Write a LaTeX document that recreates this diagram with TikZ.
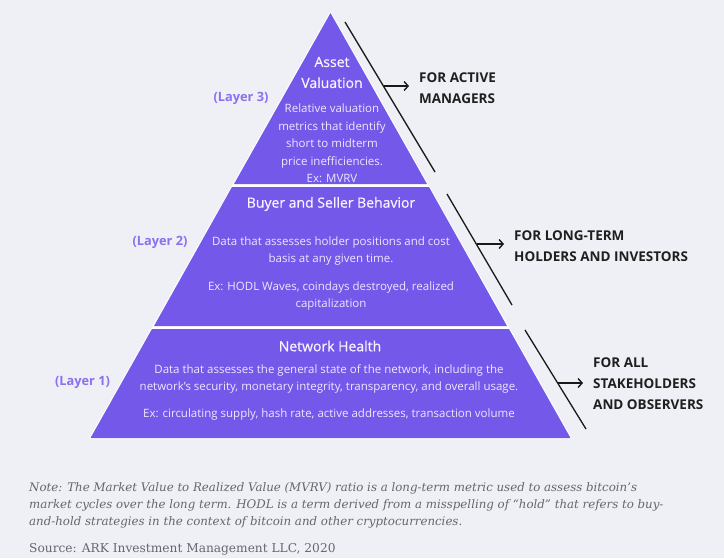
\documentclass[tikz,border=0pt]{standalone}
\usepackage{fontspec}
\setmainfont{DejaVu Serif}
\newfontfamily\osans{Open Sans}
\newfontfamily\osansmed{Open Sans}[FakeBold=0.6]
\usetikzlibrary{arrows.meta}
\definecolor{bg}{HTML}{EFF0F5}
\definecolor{pyr}{HTML}{7458EA}
\definecolor{layertxt}{HTML}{8B70F0}
\definecolor{ttl}{HTML}{F6F4FF}
\definecolor{bodytxt}{HTML}{ECE8FF}
\definecolor{notegray}{HTML}{66666C}
\begin{document}
\begin{tikzpicture}[x=1pt,y=-1pt,
  band/.style={fill=pyr},
  bandtitle/.style={text=ttl,font=\osansmed\fontsize{14}{21}\selectfont,align=center,inner sep=0pt},
  bandbody/.style={text=bodytxt,font=\osans\fontsize{11.5}{17.5}\selectfont,align=center,inner sep=0pt},
  layerlbl/.style={text=layertxt,font=\osans\bfseries\fontsize{12.8}{16}\selectfont,inner sep=0pt},
  audience/.style={text=black!88,font=\osans\bfseries\fontsize{13.5}{21}\selectfont,align=left,inner sep=0pt,anchor=west},
  divider/.style={line width=1.3pt,black!90},
  pointer/.style={line width=1.4pt,black!90,-{Straight Barb[length=4pt,width=9pt]},shorten >=10pt},
  notetxt/.style={text=notegray,inner sep=0pt,anchor=west,align=left}]

% canvas
\fill[bg] (0,0) rectangle (724,558);
\useasboundingbox (0,0) rectangle (724,558);

% pyramid: white backing shows as thin gaps between the three layers
\filldraw[white,line width=2pt,line join=round] (330.5,13) -- (570.5,438) -- (90.5,438) -- cycle;
\fill[band] (330.5,13) -- (427,184) -- (234,184) -- cycle;
\fill[band] (232,187) -- (429,187) -- (507,326) -- (154,326) -- cycle;
\fill[band] (152,329) -- (509,329) -- (570.5,438) -- (90.5,438) -- cycle;

% layer 3
\node[bandtitle] (t3) at (332,72.5) {Asset\\Valuation};
\node[bandbody] (b3) at (332,143.5) {Relative valuation\\metrics that identify\\short to midterm\\price inefficiencies.\\Ex: MVRV};
\node[layerlbl] (n3) at (241,98) {(Layer 3)};

% layer 2
\node[bandtitle] (t2) at (331,204) {Buyer and Seller Behavior};
\node[bandbody] (b2) at (331,251) {Data that assesses holder positions and cost\\basis at any given time.};
\node[bandbody] (e2) at (331,296) {Ex: HODL Waves, coindays destroyed, realized\\capitalization};
\node[layerlbl] (n2) at (160,242) {(Layer 2)};

% layer 1
\node[bandtitle] (t1) at (330,346) {Network Health};
\node[bandbody] (b1) at (329,379) {Data that assesses the general state of the network, including the\\network’s security, monetary integrity, transparency, and overall usage.};
\node[bandbody] (e1) at (329,415) {Ex: circulating supply, hash rate, active addresses, transaction volume};
\node[layerlbl] (n1) at (82.5,382) {(Layer 1)};

% audience brackets
\coordinate (d3a) at (345,22);  \coordinate (d3b) at (435,172);
\coordinate (d2a) at (447,194); \coordinate (d2b) at (512,305);
\coordinate (d1a) at (525,330); \coordinate (d1b) at (586,429);
\draw[divider] (d3a) -- (d3b);
\draw[divider] (d2a) -- (d2b);
\draw[divider] (d1a) -- (d1b);

\node[audience] (g3) at (419,88.5) {FOR ACTIVE\\MANAGERS};
\node[audience] (g2) at (514,246.5) {FOR LONG-TERM\\HOLDERS AND INVESTORS};
\node[audience] (g1) at (593,383.5) {FOR ALL\\STAKEHOLDERS\\AND OBSERVERS};

\coordinate (p3) at (383.5,86);
\coordinate (p2) at (476.5,244);
\coordinate (p1) at (557.5,383);
\draw[pointer] (p3) -- (p3 -| g3.west);
\draw[pointer] (p2) -- (p2 -| g2.west);
\draw[pointer] (p1) -- (p1 -| g1.west);

% footnotes
\node[notetxt,font=\itshape\fontsize{11.8}{17}\selectfont] (note) at (29,505) {Note: The Market Value to Realized Value (MVRV) ratio is a long-term metric used to assess bitcoin’s\\market cycles over the long term. HODL is a term derived from a misspelling of “hold” that refers to buy-\\and-hold strategies in the context of bitcoin and other cryptocurrencies.};
\node[notetxt,font=\fontsize{12.2}{17}\selectfont] (src) at (29,549) {Source: ARK Investment Management LLC, 2020};
\end{tikzpicture}
\end{document}
